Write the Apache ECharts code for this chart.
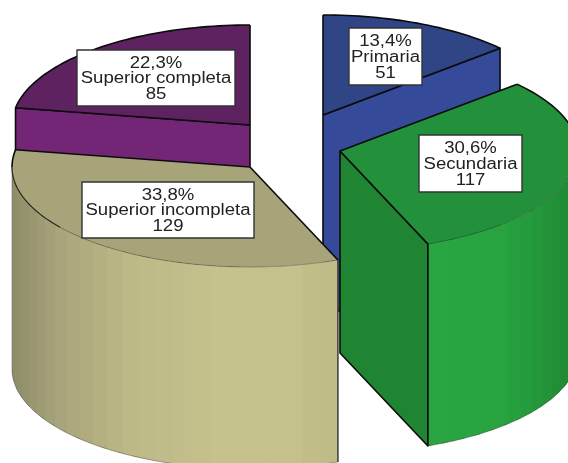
<!DOCTYPE html>
<html>
<head>
<meta charset="utf-8">
<style>
html,body{margin:0;padding:0;background:#fff;overflow:hidden}
#c{width:568px;height:463px;filter:blur(0.45px)}
</style>
<script src="https://cdn.jsdelivr.net/npm/echarts@6/dist/echarts.min.js"></script>
</head>
<body>
<div id="c"></div>
<script>
// ---- data ----
const categories = ['Primaria', 'Secundaria', 'Superior incompleta', 'Superior completa'];
const counts = [51, 117, 129, 85];
const percentLabels = ['13,4%', '30,6%', '33,8%', '22,3%'];

// ---- layout and style ----
const pieCenter = [295, 146];
const radiusX = 238, radiusY = 100, wallHeight = 202;
const explode = [[28, -31], [45, 5], [-45, 21], [-45, -21]];
const labelBoxes = [[349, 28, 73, 57], [419, 135, 103, 57], [82, 182, 172, 56], [77, 50, 158, 56]];
const topColors = ['#2f4585', '#23903b', '#a8a47a', '#5e2260'];
const sideColors = ['#354b99', '#1f8533', '#a8a47a', '#742676'];
const wallStops = [
  [[-238, '#2f4585'], [238, '#354b99']],
  [[60, '#29a741'], [160, '#28a340'], [190, '#249a3b'], [238, '#1f8634']],
  [[-238, '#8e8b68'], [-190, '#a8a57d'], [-120, '#bdb986'], [-30, '#c6c28e'], [40, '#c5c18c'], [89, '#bfbb87']],
  [[-238, '#742676'], [238, '#742676']]
];
const drawOrder = [3, 0, 2, 1];

const total = counts.reduce((a, b) => a + b, 0);
const spans = [];
counts.reduce((acc, v, i) => { spans[i] = [acc / total * 360, (acc + v) / total * 360]; return acc + v; }, 0);

const rad = d => d * Math.PI / 180;
const hex = c => [1, 3, 5].map(k => parseInt(c.substr(k, 2), 16));
function shade(stops, off) {
  if (off <= stops[0][0]) return stops[0][1];
  for (let i = 1; i < stops.length; i++) {
    if (off <= stops[i][0]) {
      const t = (off - stops[i - 1][0]) / (stops[i][0] - stops[i - 1][0]);
      const a = hex(stops[i - 1][1]), b = hex(stops[i][1]);
      return 'rgb(' + a.map((v, k) => Math.round(v + (b[k] - v) * t)).join(',') + ')';
    }
  }
  return stops[stops.length - 1][1];
}

function renderItem(params, api) {
  const idx = api.value(0);
  const cx = pieCenter[0] + explode[idx][0], cy = pieCenter[1] + explode[idx][1];
  const [a0, a1] = spans[idx];
  const pt = (deg, dy) => [cx + radiusX * Math.sin(rad(deg)), cy - radiusY * Math.cos(rad(deg)) + (dy || 0)];
  const arc = (from, to, dy) => {
    const out = [], n = Math.max(2, Math.ceil(Math.abs(to - from) / 1.5));
    for (let i = 0; i <= n; i++) out.push(pt(from + (to - from) * i / n, dy));
    return out;
  };
  const children = [];
  const black = { stroke: '#0b0b0b', lineWidth: 1.6, fill: null };
  const vline = (deg, stroke, lineWidth) => {
    const p = pt(deg);
    children.push({ type: 'line', shape: { x1: p[0], y1: p[1], x2: p[0], y2: p[1] + wallHeight }, style: { stroke, lineWidth } });
  };
  const wall = (deg) => {
    const p = pt(deg);
    children.push({ type: 'polygon', shape: { points: [[cx, cy], p, [p[0], p[1] + wallHeight], [cx, cy + wallHeight]] },
      style: { fill: sideColors[idx], stroke: '#0b0b0b', lineWidth: 1.6, lineJoin: 'round' } });
  };
  if (Math.sin(rad(a0)) < -1e-6) wall(a0);
  if (Math.sin(rad(a1)) > 1e-6) wall(a1);

  // curved outer wall, in vertical shaded bands (each band overlaps the next so no seams show)
  const v0 = Math.max(a0, 90), v1 = Math.min(a1, 270);
  if (v1 > v0) {
    const step = 4.5;
    const bands = [];
    for (let s = v0; s < v1; s += step) bands.push([s, Math.min(s + step, v1)]);
    bands.forEach((b, i) => {
      const e = i === bands.length - 1 ? b[1] : Math.min(b[1] + 1.5, v1);
      const col = shade(wallStops[idx], radiusX * Math.sin(rad((b[0] + b[1]) / 2)));
      children.push({ type: 'polygon', shape: { points: arc(b[0], e).concat(arc(e, b[0], wallHeight)) }, style: { fill: col } });
    });
    children.push({ type: 'polyline', shape: { points: arc(v0, v1, wallHeight) }, style: { fill: null, stroke: 'rgba(40,40,30,0.4)', lineWidth: 1 } });
    if (idx === 2) { vline(270, 'rgba(60,60,50,0.45)', 1); vline(a0, '#444', 1.6); }
    if (idx === 1) vline(a1, '#0b0b0b', 1.6);
  }

  // top face
  const rim = arc(a0, a1);
  children.push({ type: 'polygon', shape: { points: [[cx, cy]].concat(rim) }, style: { fill: topColors[idx] } });
  // back rim in black, front rim thin
  const backA = [];
  if (a0 < 90) backA.push([a0, Math.min(a1, 90)]);
  if (a1 > 270) backA.push([Math.max(a0, 270), a1]);
  backA.forEach(b => children.push({ type: 'polyline', shape: { points: arc(b[0], b[1]) }, style: black }));
  if (v1 > v0) children.push({ type: 'polyline', shape: { points: arc(v0, v1) }, style: { fill: null, stroke: 'rgba(30,30,20,0.4)', lineWidth: 0.8 } });
  // the front rim darkens toward the far left, where it turns away from the light
  if (idx === 2) children.push({ type: 'polyline', shape: { points: arc(233, 270) }, style: { fill: null, stroke: 'rgba(10,10,5,0.7)', lineWidth: 1.2 } });
  [a0, a1].forEach(a => {
    const p = pt(a);
    children.push({ type: 'line', shape: { x1: cx, y1: cy, x2: p[0], y2: p[1] }, style: { stroke: '#0b0b0b', lineWidth: 1.6 } });
  });

  // label box
  const [bx, by, bw, bh] = labelBoxes[idx];
  children.push({ type: 'rect', z2: 50, shape: { x: bx, y: by, width: bw, height: bh }, style: { fill: '#fff', stroke: '#333', lineWidth: 1.4 } });
  const lines = [percentLabels[idx], categories[idx], String(counts[idx])];
  lines.forEach((t, k) => children.push({
    type: 'text', z2: 51,
    x: bx + bw / 2, y: by + bh / 2 + 1 + (k - 1) * 15.7,
    scaleX: 1.16,
    style: { text: t, align: 'center', verticalAlign: 'middle', fill: '#222', fontSize: 16, fontFamily: '"Liberation Sans", Arial, sans-serif' }
  }));
  return { type: 'group', children };
}

const chart = echarts.init(document.getElementById('c'), null, { renderer: 'canvas' });
chart.setOption({
  animation: false,
  backgroundColor: '#fff',
  series: [{
    type: 'custom',
    coordinateSystem: 'none',
    silent: true,
    clip: false,
    renderItem,
    data: drawOrder.map(i => [i, counts[i]])
  }]
});
</script>
</body>
</html>
